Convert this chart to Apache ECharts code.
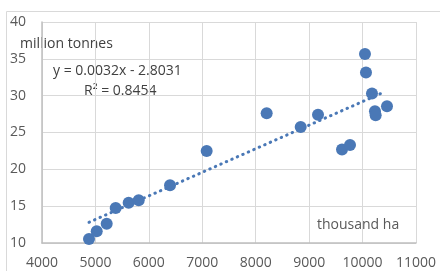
<!DOCTYPE html>
<html>
<head>
<meta charset="utf-8">
<script src="https://cdn.jsdelivr.net/npm/echarts@6/dist/echarts.min.js"></script>
<style>
  html, body { margin: 0; padding: 0; background: #fff; }
  #main { width: 440px; height: 271px; }
</style>
</head>
<body>
<div id="main"></div>
<script>
// area, thousand ha
const areaX = [4880, 5024, 5211, 5379, 5622, 5810, 6396, 7082, 8205, 8842,
               9166, 10045, 10064, 10176, 10457, 10232, 10245, 9615, 9765];
// production, million tonnes
const prodY = [10.55, 11.6, 12.6, 14.75, 15.45, 15.8, 17.85, 22.5, 27.6, 25.75,
               27.4, 35.65, 33.15, 30.3, 28.55, 27.9, 27.35, 22.7, 23.3];

const slope = 0.0032;
const intercept = -2.8031;
const xTicks = [4000, 11000, 1000];
const yTicks = [10, 40, 5];

const points = areaX.map((x, i) => [x, prodY[i]]);
const xMin = Math.min(...areaX), xMax = 10380;
const trend = [[xMin, slope * xMin + intercept], [xMax, slope * xMax + intercept]];

const blue = '#4a78b6';
const font = '"Open Sans", "Liberation Sans", sans-serif';

const chart = echarts.init(document.getElementById('main'));
chart.setOption({
  animation: false,
  grid: { left: 42, top: 22, right: 24, bottom: 28 },
  xAxis: {
    type: 'value', min: xTicks[0], max: xTicks[1], interval: xTicks[2],
    axisLine: { lineStyle: { color: '#bfbfbf', width: 1.5 } },
    axisTick: { show: false },
    axisLabel: { color: '#595959', fontFamily: font, fontSize: 14, margin: 13,
                 formatter: v => String(v) },
    splitLine: { lineStyle: { color: '#d9d9d9' } }
  },
  yAxis: {
    type: 'value', min: yTicks[0], max: yTicks[1], interval: yTicks[2],
    axisLine: { show: true, lineStyle: { color: '#bfbfbf', width: 1.5 } },
    axisTick: { show: false },
    axisLabel: { color: '#595959', fontFamily: font, fontSize: 14, align: 'left', margin: 32 },
    splitLine: { lineStyle: { color: '#d9d9d9' } }
  },
  graphic: [
    { type: 'rect', shape: { x: 6.5, y: 11.5, width: 500, height: 300 },
      style: { fill: 'none', stroke: '#d9d9d9', lineWidth: 1 }, silent: true },
    { type: 'text', left: 20, top: 37,
      style: { text: 'million tonnes', fill: '#404040', font: '14px ' + font } },
    { type: 'text', left: 53, top: 64,
      style: { text: 'y = 0.0032x - 2.8031', fill: '#404040', font: '14px ' + font } },
    { type: 'text', left: 84, top: 84,
      style: { text: 'R² = 0.8454', fill: '#404040', font: '14px ' + font } },
    { type: 'text', left: 317, top: 218,
      style: { text: 'thousand ha', fill: '#595959', font: '14px ' + font } }
  ],
  series: [
    {
      type: 'line', data: trend, symbol: 'none', z: 3,
      lineStyle: { color: blue, width: 3, type: [0.5, 5.5], cap: 'round' }
    },
    {
      type: 'scatter', data: points, symbolSize: 12, z: 4,
      itemStyle: { color: blue, opacity: 1 }
    }
  ]
});
</script>
</body>
</html>
